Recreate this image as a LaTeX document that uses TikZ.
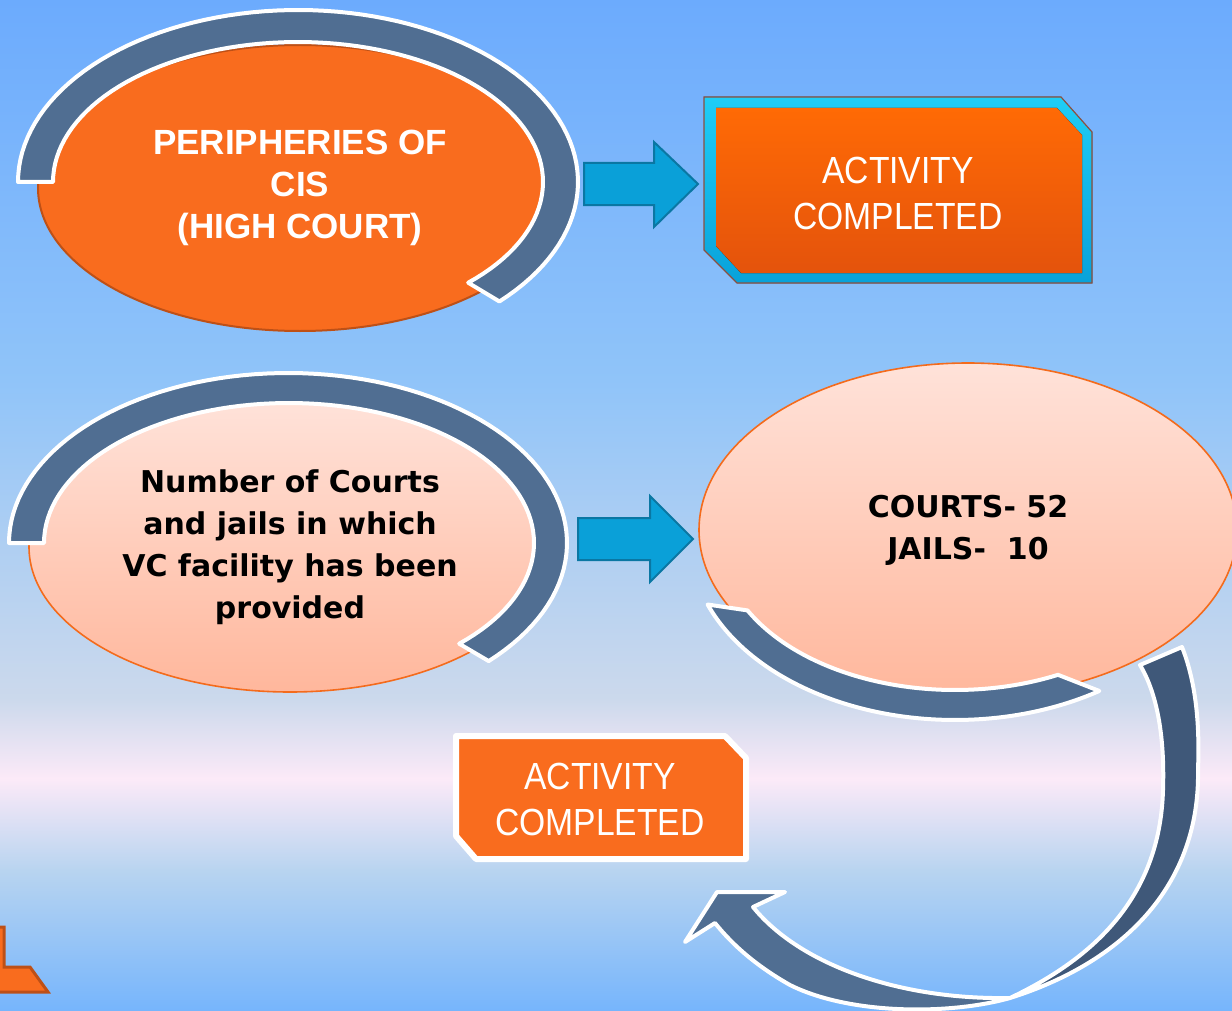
\documentclass[tikz,border=0pt]{standalone}
\usepackage{fontspec}
\usepackage{xcolor}
\usepackage{tikz}
\usetikzlibrary{shapes.geometric, calc}
\newfontfamily\capsfont{Liberation Sans}
\newfontfamily\narrowfont[FakeStretch=0.89]{Liberation Sans}
\newfontfamily\countfont{DejaVu Sans}
\definecolor{skyA}{HTML}{6CABFD}
\definecolor{skyB}{HTML}{90C4F9}
\definecolor{skyC}{HTML}{CCD9EC}
\definecolor{skyD}{HTML}{FCEAF8}
\definecolor{skyE}{HTML}{B8D4F0}
\definecolor{skyF}{HTML}{76B5FC}
\definecolor{hotorange}{HTML}{F96C1E}
\definecolor{rustedge}{HTML}{BE5016}
\definecolor{peachtop}{HTML}{FFE2D9}
\definecolor{peachbot}{HTML}{FFB79C}
\definecolor{peachedge}{HTML}{F46B1C}
\definecolor{slateband}{HTML}{506E92}
\definecolor{slatedark}{HTML}{3F5879}
\definecolor{arrowblue}{HTML}{0AA0D8}
\definecolor{arrowedge}{HTML}{0A77A3}
\definecolor{frametop}{HTML}{1FCDF6}
\definecolor{framebot}{HTML}{08A2DA}
\definecolor{frameline}{HTML}{8B5040}
\definecolor{donetop}{HTML}{FF6A05}
\definecolor{donebot}{HTML}{E4530C}

\begin{document}
\begin{tikzpicture}[
  x=0.5pt, y=-0.5pt,
  ovalhot/.style={ellipse, fill=hotorange, draw=rustedge, line width=1pt, inner sep=0pt,
    text=white, align=center, font=\capsfont\bfseries\fontsize{17.5}{21}\selectfont},
  ovalsoft/.style={ellipse, top color=peachtop, bottom color=peachbot, draw=peachedge,
    line width=0.8pt, inner sep=0pt, align=center, font=\countfont\bfseries\fontsize{15}{21}\selectfont},
  ringband/.style={fill=slateband, draw=white, line width=2pt, line join=round},
  blockarrow/.style={fill=arrowblue, draw=arrowedge, line width=1pt},
  donetext/.style={text=white, align=center, font=\narrowfont\fontsize{18.9}{23}\selectfont}
]
  \useasboundingbox (0,0) rectangle (1232,1011);
  % backdrop
  \fill[top color=skyA, bottom color=skyB] (0,0) rectangle (1232,381);
  \fill[top color=skyB, bottom color=skyC] (0,380) rectangle (1232,701);
  \fill[top color=skyC, bottom color=skyD] (0,700) rectangle (1232,779);
  \fill[top color=skyD, bottom color=skyE] (0,778) rectangle (1232,871);
  \fill[top color=skyE, bottom color=skyF] (0,870) rectangle (1232,1011);

  % top row
  \node[ovalhot, minimum width=262pt, minimum height=143pt] (cisoval) at (300,188)
    {PERIPHERIES OF\\CIS\\(HIGH COURT)};
  \filldraw[ringband]
    plot[domain=180:404, samples=90, variable=\t] ({298+280*cos(\t)},{182+172*sin(\t)})
    -- plot[domain=180:406, samples=90, variable=\t] ({298+245*cos(586-\t)},{182+140*sin(586-\t)})
    -- cycle;
  \filldraw[blockarrow] (584,163) -- (654,163) -- (654,142) -- (698,184)
    -- (654,227) -- (654,205) -- (584,205) -- cycle;
  \filldraw[top color=frametop, bottom color=framebot, draw=frameline, line width=0.6pt]
    (704,97) -- (1061,97) -- (1092,132) -- (1092,283) -- (737,283) -- (704,250) -- cycle;
  \fill[top color=donetop, bottom color=donebot]
    (716,108) -- (1057,108) -- (1082,135) -- (1082,273) -- (741,273) -- (716,246) -- cycle;
  \node[donetext] (cisdone) at (898,193) {ACTIVITY\\COMPLETED};

  % second row
  \node[ovalsoft, minimum width=261pt, minimum height=145pt] (vcoval) at (290,547)
    {Number of Courts\\and jails in which\\VC facility has been\\provided};
  \filldraw[ringband]
    plot[domain=180:404, samples=90, variable=\t] ({288+279*cos(\t)},{543+170*sin(\t)})
    -- plot[domain=180:406, samples=90, variable=\t] ({289+245*cos(586-\t)},{543+140*sin(586-\t)})
    -- cycle;
  \filldraw[blockarrow] (578,518) -- (650,518) -- (650,496) -- (693,539)
    -- (650,582) -- (650,560) -- (578,560) -- cycle;
  \node[ovalsoft, minimum width=269pt, minimum height=167pt] (vccount) at (968,530)
    {COURTS- 52\\JAILS-\ \ 10};
  \filldraw[ringband]
    plot[domain=57:159, samples=70, variable=\t] ({955+265*cos(\t)},{540+180*sin(\t)})
    -- plot[domain=64:152, samples=70, variable=\t] ({955+235*cos(216-\t)},{540+150*sin(216-\t)})
    -- cycle;

  % curved return arrow
  \filldraw[ringband, fill=slatedark] (1140,665) -- (1182,647)
    .. controls (1195,680) and (1200,720) .. (1198,770)
    .. controls (1200,880) and (1130,960) .. (1010,998)
    .. controls (1090,960) and (1160,900) .. (1163,790)
    .. controls (1165,730) and (1155,690) .. (1140,665) -- cycle;
  \filldraw[ringband] (1010,998)
    .. controls (950,1015) and (850,1015) .. (790,985)
    .. controls (760,968) and (735,948) .. (715,923)
    -- (685,942) -- (717,892) -- (785,892) -- (753,907)
    .. controls (800,965) and (900,1000) .. (1010,998) -- cycle;

  \filldraw[fill=hotorange, draw=white, line width=3pt, line join=round]
    (456,736) -- (725,736) -- (746,758) -- (746,859) -- (476,859) -- (456,836) -- cycle;
  \node[donetext] (vcdone) at (600,799) {ACTIVITY\\COMPLETED};

  % corner piece
  \filldraw[fill=hotorange, draw=rustedge, line width=1.5pt]
    (-5,927) -- (4,927) -- (4,967) -- (30,967) -- (48,992) -- (-5,992) -- cycle;
\end{tikzpicture}
\end{document}
